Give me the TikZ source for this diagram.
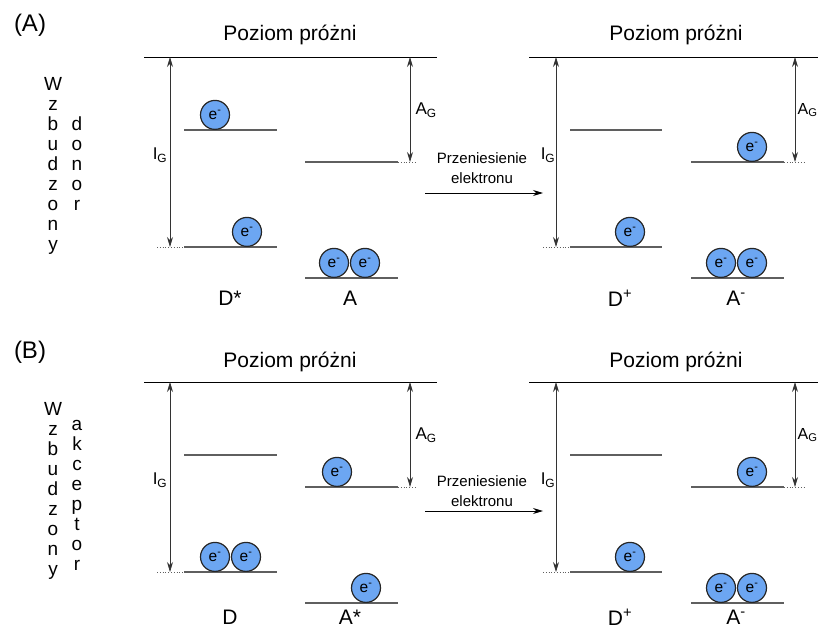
\documentclass[tikz,border=0pt]{standalone}
\usepackage{fontspec}
\setmainfont{Liberation Sans}
\usetikzlibrary{arrows.meta}

\definecolor{elecblue}{RGB}{108,166,242}
\definecolor{levelgray}{RGB}{95,95,95}

\begin{document}
\begin{tikzpicture}[x=1pt,y=1pt,yscale=-1,xscale=1,
  vacuum/.style={draw=black,line width=0.9pt},
  level/.style={draw=levelgray,line width=1.2pt},
  stub/.style={draw=levelgray,dotted,line width=0.8pt},
  gap/.style={draw=black!80,line width=0.8pt,{Stealth[length=10pt,width=6pt]}-{Stealth[length=10pt,width=6pt]}},
  transfer/.style={draw=black,line width=0.9pt,-{Stealth[length=10pt,width=6pt]}},
  elec/.style={circle,draw=black!85,line width=1.2pt,fill=elecblue,minimum size=29pt,inner sep=0pt,anchor=south,font=\fontsize{15.5}{15.5}\selectfont},
  title/.style={font=\fontsize{21}{21}\selectfont},
  tag/.style={font=\fontsize{24}{24}\selectfont},
  energy/.style={font=\fontsize{17}{17}\selectfont},
  species/.style={font=\fontsize{21}{21}\selectfont},
  column/.style={align=center,anchor=north,inner sep=0pt,font=\fontsize{19}{20}\selectfont},
  small/.style={align=center,font=\fontsize{15}{20}\selectfont}
]
%uncomment if require: \path (0,628); %set diagram left start at 0, and has height of 628
\useasboundingbox (0,0) rectangle (818,628);

%%%%%%%%%%%%%%%% Panel A
% Tag and side text
\node[tag] (tagA) at (30,25) {(A)};
\node[column] (wzA) at (53,77) {W\\z\\b\\u\\d\\z\\o\\n\\y};
\node[column] (donA) at (77,117) {d\\o\\n\\o\\r};

% Vacuum levels
\draw[vacuum] (144,57) -- (437,57);
\draw[vacuum] (529,57) -- (818,57);
\node[title] (vacA1) at (290,35) {Poziom próżni};
\node[title] (vacA2) at (676,35) {Poziom próżni};

% Donor D*
\draw[level] (184,130) -- (277,130);
\draw[level] (184,247) -- (277,247);
\draw[stub] (157,247) -- (184,247);
\node[elec] (eA1) at (215,130) {e\textsuperscript{-}};
\node[elec] (eA2) at (247,247) {e\textsuperscript{-}};
% Acceptor A
\draw[level] (305,162) -- (398,162);
\draw[level] (305,278) -- (398,278);
\draw[stub] (398,162) -- (416,162);
\node[elec] (eA3) at (334,278) {e\textsuperscript{-}};
\node[elec] (eA4) at (365,278) {e\textsuperscript{-}};

% Ionisation energy and affinity
\coordinate (igA1t) at (170,57);
\coordinate (igA1b) at (170,247);
\draw[gap] (igA1t) -- (igA1b);
\node[energy] (igA1) at (160,155) {I\textsubscript{G}};
\coordinate (agA1t) at (410,57);
\coordinate (agA1b) at (410,162);
\draw[gap] (agA1t) -- (agA1b);
\node[energy,anchor=west] (agA1) at (412,110) {A\textsubscript{G}};

\node[species] (dA) at (230,298) {D*};
\node[species] (aA) at (350,298) {A};

% Electron transfer
\node[small] (trA) at (482,168) {Przeniesienie\\elektronu};
\coordinate (trA1) at (425,193);
\coordinate (trA2) at (543,193);
\draw[transfer] (trA1) -- (trA2);

% Donor D+
\draw[level] (570,130) -- (662,130);
\draw[level] (570,247) -- (662,247);
\draw[stub] (543,247) -- (570,247);
\node[elec] (eA5) at (630,247) {e\textsuperscript{-}};
% Acceptor A-
\draw[level] (691,162) -- (784,162);
\draw[level] (691,278) -- (784,278);
\draw[stub] (784,162) -- (806,162);
\node[elec] (eA6) at (752,162) {e\textsuperscript{-}};
\node[elec] (eA7) at (721,278) {e\textsuperscript{-}};
\node[elec] (eA8) at (752,278) {e\textsuperscript{-}};

\coordinate (igA2t) at (556,57);
\coordinate (igA2b) at (556,247);
\draw[gap] (igA2t) -- (igA2b);
\node[energy] (igA2) at (548,155) {I\textsubscript{G}};
\coordinate (agA2t) at (795,57);
\coordinate (agA2b) at (795,162);
\draw[gap] (agA2t) -- (agA2b);
\node[energy,anchor=west,inner sep=0.5pt,font=\fontsize{16}{16}\selectfont] (agA2) at (797,110) {A\textsubscript{G}};

\node[species] (dpA) at (620,298) {D\textsuperscript{+}};
\node[species] (amA) at (736,298) {A\textsuperscript{-}};

%%%%%%%%%%%%%%%% Panel B
\begin{scope}[shift={(0,325)}]
% Tag and side text
\node[tag] (tagB) at (30,27) {(B)};
\node[column] (wzB) at (53,77) {W\\z\\b\\u\\d\\z\\o\\n\\y};
\node[column] (akcB) at (77,95) {a\\k\\c\\e\\p\\t\\o\\r};

% Vacuum levels
\draw[vacuum] (144,57) -- (437,57);
\draw[vacuum] (529,57) -- (818,57);
\node[title] (vacB1) at (290,37) {Poziom próżni};
\node[title] (vacB2) at (676,37) {Poziom próżni};

% Donor D
\draw[level] (184,130) -- (277,130);
\draw[level] (184,247) -- (277,247);
\draw[stub] (157,247) -- (184,247);
\node[elec] (eB1) at (215,247) {e\textsuperscript{-}};
\node[elec] (eB2) at (246,247) {e\textsuperscript{-}};
% Acceptor A*
\draw[level] (305,162) -- (398,162);
\draw[level] (305,278) -- (398,278);
\draw[stub] (398,162) -- (416,162);
\node[elec] (eB3) at (337,162) {e\textsuperscript{-}};
\node[elec] (eB4) at (366,278) {e\textsuperscript{-}};

% Ionisation energy and affinity
\coordinate (igB1t) at (170,57);
\coordinate (igB1b) at (170,247);
\draw[gap] (igB1t) -- (igB1b);
\node[energy] (igB1) at (160,155) {I\textsubscript{G}};
\coordinate (agB1t) at (410,57);
\coordinate (agB1b) at (410,162);
\draw[gap] (agB1t) -- (agB1b);
\node[energy,anchor=west] (agB1) at (412,110) {A\textsubscript{G}};

\node[species] (dB) at (230,292) {D};
\node[species] (aB) at (350,292) {A*};

% Electron transfer
\node[small] (trB) at (482,166) {Przeniesienie\\elektronu};
\coordinate (trB1) at (425,186);
\coordinate (trB2) at (543,186);
\draw[transfer] (trB1) -- (trB2);

% Donor D+
\draw[level] (570,130) -- (662,130);
\draw[level] (570,247) -- (662,247);
\draw[stub] (543,247) -- (570,247);
\node[elec] (eB5) at (630,247) {e\textsuperscript{-}};
% Acceptor A-
\draw[level] (691,162) -- (784,162);
\draw[level] (691,278) -- (784,278);
\draw[stub] (784,162) -- (806,162);
\node[elec] (eB6) at (752,162) {e\textsuperscript{-}};
\node[elec] (eB7) at (721,278) {e\textsuperscript{-}};
\node[elec] (eB8) at (752,278) {e\textsuperscript{-}};

\coordinate (igB2t) at (556,57);
\coordinate (igB2b) at (556,247);
\draw[gap] (igB2t) -- (igB2b);
\node[energy] (igB2) at (548,155) {I\textsubscript{G}};
\coordinate (agB2t) at (795,57);
\coordinate (agB2b) at (795,162);
\draw[gap] (agB2t) -- (agB2b);
\node[energy,anchor=west,inner sep=0.5pt,font=\fontsize{16}{16}\selectfont] (agB2) at (797,110) {A\textsubscript{G}};

\node[species] (dpB) at (620,292) {D\textsuperscript{+}};
\node[species] (amB) at (736,292) {A\textsuperscript{-}};
\end{scope}

\end{tikzpicture}
\end{document}
